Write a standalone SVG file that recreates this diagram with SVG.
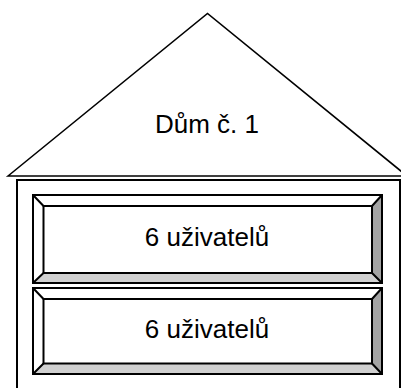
<svg xmlns="http://www.w3.org/2000/svg" width="401" height="388" viewBox="0 0 401 388">
<style>
.ln{fill:none;stroke:#000;stroke-width:2;stroke-linejoin:miter}
.roof{fill:#fff;stroke:#000;stroke-width:1.6;stroke-linejoin:miter}
.txt{font-family:"Liberation Sans",Arial,sans-serif;font-size:26px;fill:#000;text-anchor:middle}
.lt{fill:#fff}
.bt{fill:#d0d0d0}
.rt{fill:#a3a3a3}
</style>
<rect width="401" height="388" fill="#fff"/>
<g id="roof">
<polygon class="roof" points="8,176 207.5,13.5 407,176"/>
<text class="txt" x="207" y="133">Dům č. 1</text>
</g>
<g id="house">
<rect class="ln" x="17" y="180" width="383" height="212"/>
</g>
<g id="floor1">
<polygon class="lt" points="33,195 382,195 372,206 43.5,206"/>
<polygon class="lt" points="33,195 43.5,206 43.5,273 33,283"/>
<polygon class="bt" points="33,283 43.5,273 372,273 382,283"/>
<polygon class="rt" points="382,195 382,283 372,273 372,206"/>
<rect class="ln" x="33" y="195" width="349" height="88"/>
<rect class="ln" x="43.5" y="206" width="328.5" height="67"/>
<path class="ln" d="M33,195 L43.5,206 M382,195 L372,206 M33,283 L43.5,273 M382,283 L372,273"/>
<text class="txt" x="207" y="246">6 uživatelů</text>
</g>
<g id="floor2">
<polygon class="lt" points="33,288 382,288 372,299 43.5,299"/>
<polygon class="lt" points="33,288 43.5,299 43.5,363.5 33,374"/>
<polygon class="bt" points="33,374 43.5,363.5 372,363.5 382,374"/>
<polygon class="rt" points="382,288 382,374 372,363.5 372,299"/>
<rect class="ln" x="33" y="288" width="349" height="86"/>
<rect class="ln" x="43.5" y="299" width="328.5" height="64.5"/>
<path class="ln" d="M33,288 L43.5,299 M382,288 L372,299 M33,374 L43.5,363.5 M382,374 L372,363.5"/>
<text class="txt" x="207" y="338">6 uživatelů</text>
</g>
<g id="connectors"/>
</svg>
